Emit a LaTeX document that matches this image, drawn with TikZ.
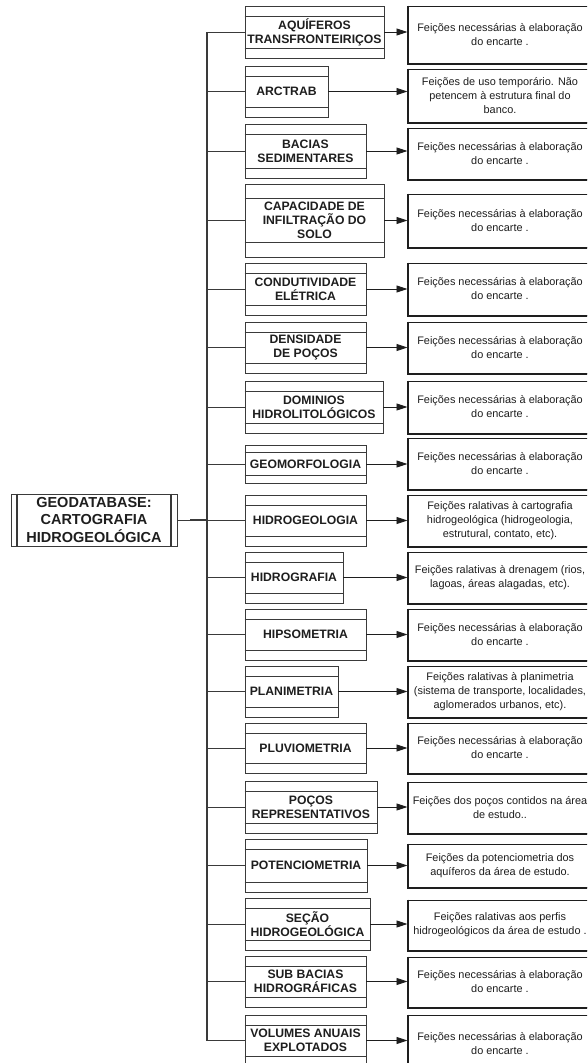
\documentclass[tikz,border=0pt]{standalone}
\usepackage{fontspec}
\setmainfont{Liberation Sans}
\usetikzlibrary{arrows.meta,calc}
\definecolor{ink}{HTML}{1E1E1E}
\definecolor{frame}{HTML}{3A3A3A}
\tikzset{
  lbox/.style={draw=frame, line width=0.9pt, inner sep=0pt, align=center, text=ink,
    font=\fontsize{12.2}{14}\selectfont\bfseries},
  rbox/.style={draw=ink, line width=1pt, inner sep=0pt, align=center, text=ink,
    font=\fontsize{10.9}{14}\selectfont},
  rootbox/.style={draw=frame, line width=0.9pt, inner sep=0pt, align=center, text=ink,
    font=\fontsize{14.5}{17.5}\selectfont\bfseries},
  link/.style={draw=frame, line width=0.9pt},
  trunk/.style={draw=frame, line width=1.3pt},
  feed/.style={draw=ink, line width=0.9pt, -{Triangle[length=11pt,width=7pt]}},
}
% band height of the two thin strips inside each layer box
\def\band{10.5}
% #1 name, #2 right edge, #3 top, #4 bottom, #5 desc top, #6 desc bottom, #7 layer, #8 description
\newcommand\branch[8]{%
  \node[lbox, minimum width={#2pt-245pt}, minimum height={#4pt-#3pt}]
    (#1) at ({(245+#2)/2},{(#3+#4)/2}) {#7};
  \draw[frame, line width=0.9pt] ([yshift=-\band pt]#1.north west) -- ([yshift=-\band pt]#1.north east);
  \draw[frame, line width=0.9pt] ([yshift=\band pt]#1.south west) -- ([yshift=\band pt]#1.south east);
  \node[rbox, minimum width=184pt, minimum height={#6pt-#5pt}]
    (#1-d) at (500,{(#5+#6)/2}) {#8};
  \draw[ink, line width=2pt] (#1-d.north west) -- (#1-d.south west) -- (#1-d.south east);
  \draw[link] (tk |- #1.west) -- (#1.west);
  \draw[feed] (#1.east) -- (#1.east -| #1-d.west);
}
\newcommand\encarte{Feições necessárias à elaboração\\do encarte .}

\begin{document}
\begin{tikzpicture}[x=1pt, y=-1pt]
  \useasboundingbox (0,0) rectangle (587,1063);
  \clip (0,0) rectangle (587,1063);
  \fill[white] (0,0) rectangle (587,1063);
  \coordinate (tk) at (207,0);

  \branch{aqu}{384}{6}{58}{6}{63}{AQUÍFEROS\\TRANSFRONTEIRIÇOS}{\encarte}
  \branch{arc}{328}{66}{117}{69}{122}{ARCTRAB}{Feições de uso temporário. Não\\petencem à estrutura final do\\banco.}
  \branch{bac}{366}{124}{178}{128}{179}{BACIAS\\SEDIMENTARES}{\encarte}
  \def\band{15}
  \branch{cap}{384}{184}{257}{194}{247}{CAPACIDADE DE\\INFILTRAÇÃO DO\\SOLO}{\encarte}
  \def\band{10.5}
  \branch{con}{366}{263}{315}{263}{315}{CONDUTIVIDADE\\ELÉTRICA}{\encarte}
  \branch{den}{366}{322}{373}{322}{373}{DENSIDADE\\DE POÇOS}{\encarte}
  \branch{dom}{383}{381}{433}{381}{433}{DOMINIOS\\HIDROLITOLÓGICOS}{\encarte}
  \def\band{8}
  \branch{geo}{366}{445}{483}{438}{489}{GEOMORFOLOGIA}{\encarte}
  \def\band{10.5}
  \branch{hge}{366}{495}{546}{495}{546}{HIDROGEOLOGIA}{Feições ralativas à cartografia\\hidrogeológica (hidrogeologia,\\estrutural, contato, etc).}
  \branch{hgr}{343}{552}{603}{552}{603}{HIDROGRAFIA}{Feições ralativas à drenagem (rios,\\lagoas, áreas alagadas, etc).}
  \branch{hip}{366}{609}{660}{609}{660}{HIPSOMETRIA}{\encarte}
  \branch{pla}{338}{666}{717}{666}{717}{PLANIMETRIA}{Feições ralativas à planimetria\\(sistema de transporte, localidades,\\aglomerados urbanos, etc).}
  \branch{plu}{366}{723}{773}{723}{773}{PLUVIOMETRIA}{\encarte}
  \branch{poc}{377}{781}{833}{782}{833}{POÇOS\\REPRESENTATIVOS}{Feições dos poços contidos na área\\de estudo..}
  \branch{pot}{367}{839}{892}{844}{887}{POTENCIOMETRIA}{Feições da potenciometria dos\\aquíferos da área de estudo.}
  \branch{sec}{370}{898}{950}{900}{950}{SEÇÃO\\HIDROGEOLÓGICA}{Feições ralativas aos perfis\\hidrogeológicos da área de estudo .}
  \branch{sub}{366}{956}{1007}{957}{1007}{SUB BACIAS\\HIDROGRÁFICAS}{\encarte}
  \branch{vol}{366}{1015}{1066}{1015}{1072}{VOLUMES ANUAIS\\EXPLOTADOS}{\encarte}

  % vertical spine joining every layer
  \draw[trunk] (tk |- aqu.west) -- (tk |- vol.west);

  % root of the geodatabase
  \node[rootbox, minimum width=166pt, minimum height=52pt] (root) at (94,520)
    {GEODATABASE:\\CARTOGRAFIA\\HIDROGEOLÓGICA};
  \draw[frame, line width=2pt] ([xshift=6pt]root.north west) -- ([xshift=6pt]root.south west);
  \draw[frame, line width=2pt] ([xshift=-6pt]root.north east) -- ([xshift=-6pt]root.south east);
  \draw[link] (root.east) -- (tk |- root.east);
  \draw[frame, line width=1.6pt] ([xshift=13pt]root.east) -- (tk |- root.east);
\end{tikzpicture}
\end{document}
